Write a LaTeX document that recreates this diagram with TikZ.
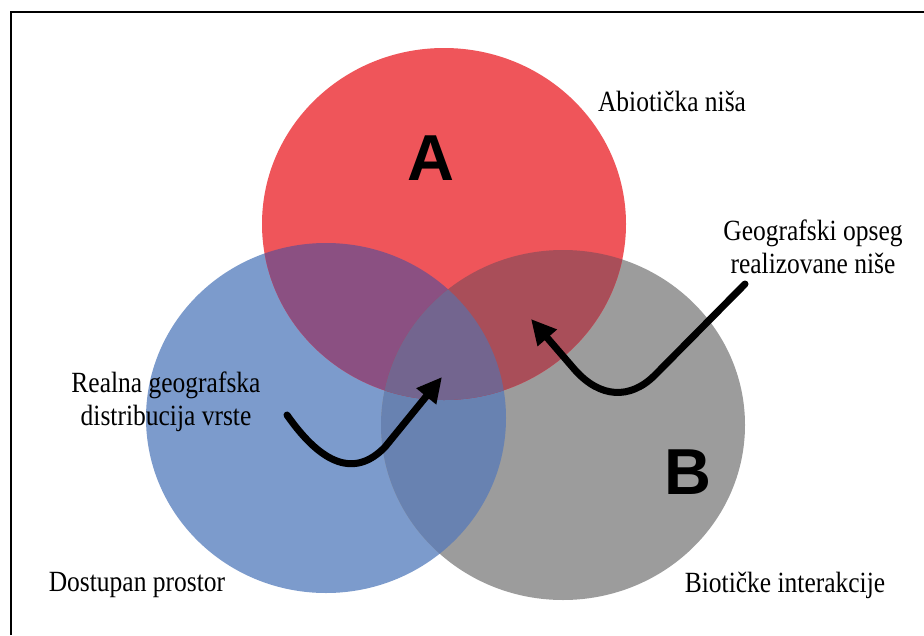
\documentclass[tikz,border=0pt]{standalone}
\usepackage{fontspec}
\usepackage{graphicx}
\setmainfont{Liberation Serif}
\newfontfamily\lettersans{Liberation Sans}
\usetikzlibrary{arrows.meta}
\definecolor{cRed}{RGB}{239,85,90}
\definecolor{cBlue}{RGB}{124,155,204}
\definecolor{cGray}{RGB}{156,156,156}
\definecolor{cRB}{RGB}{139,80,130}
\definecolor{cRG}{RGB}{169,78,89}
\definecolor{cBG}{RGB}{104,130,177}
\definecolor{cRBG}{RGB}{115,101,143}
\newcommand{\tl}[1]{\scalebox{1}[1.15]{#1}}
\tikzset{
  lbl/.style={font=\fontsize{25.5}{33}\selectfont, align=center, inner sep=0pt},
  bigletter/.style={font=\lettersans\bfseries\fontsize{65}{65}\selectfont, inner sep=0pt},
  curvedarrow/.style={line width=7pt, line cap=round, -{Triangle[length=25pt,width=24pt]}},
  frameline/.style={line width=1.6pt}
}
\def\redE{(444,224) ellipse [x radius=182, y radius=176]}
\def\blueE{(326,418) ellipse [x radius=180, y radius=175]}
\def\grayE{(563,425) ellipse [x radius=182, y radius=175]}
\begin{document}
\begin{tikzpicture}[x=1pt,y=-1pt]
\useasboundingbox (0,0) rectangle (924,635);
\fill[white] (0,0) rectangle (924,635);
% frame
\coordinate (fb) at (11,635);
\coordinate (fc) at (11,12);
\coordinate (fr) at (924,12);
\draw[frameline] (fb) -- (fc) -- (fr);
% circles
\fill[cBlue] \blueE;
\fill[cGray] \grayE;
\fill[cRed] \redE;
\begin{scope}
  \clip \blueE;
  \fill[cBG] \grayE;
\end{scope}
\begin{scope}
  \clip \redE;
  \fill[cRB] \blueE;
  \fill[cRG] \grayE;
  \clip \blueE;
  \fill[cRBG] \grayE;
\end{scope}
% letters
\node[bigletter] (A) at (431,158) {A};
\node[bigletter] (B) at (688,472) {B};
% labels
\node[lbl] (abio) at (672,101) {\tl{Abiotička niša}};
\node[lbl] (geo) at (813,247) {\tl{Geografski opseg}\\\tl{realizovane niše}};
\node[lbl] (real) at (166,402) {\tl{Realna geografska}\\\tl{distribucija vrste}};
\node[lbl] (dost) at (137,585) {\tl{Dostupan prostor}};
\node[lbl] (biot) at (785,585) {\tl{Biotičke interakcije}};
% arrows
\coordinate (a1s) at (287,415);
\coordinate (a1e) at (442,377);
\draw[curvedarrow] (a1s) .. controls (322,465) and (355,478) .. (385,447) -- (a1e);
\coordinate (a2s) at (745,284);
\coordinate (a2e) at (531,319);
\draw[curvedarrow] (a2s) -- (655,375) .. controls (630,400) and (600,398) .. (575,370) -- (a2e);
\end{tikzpicture}
\end{document}
